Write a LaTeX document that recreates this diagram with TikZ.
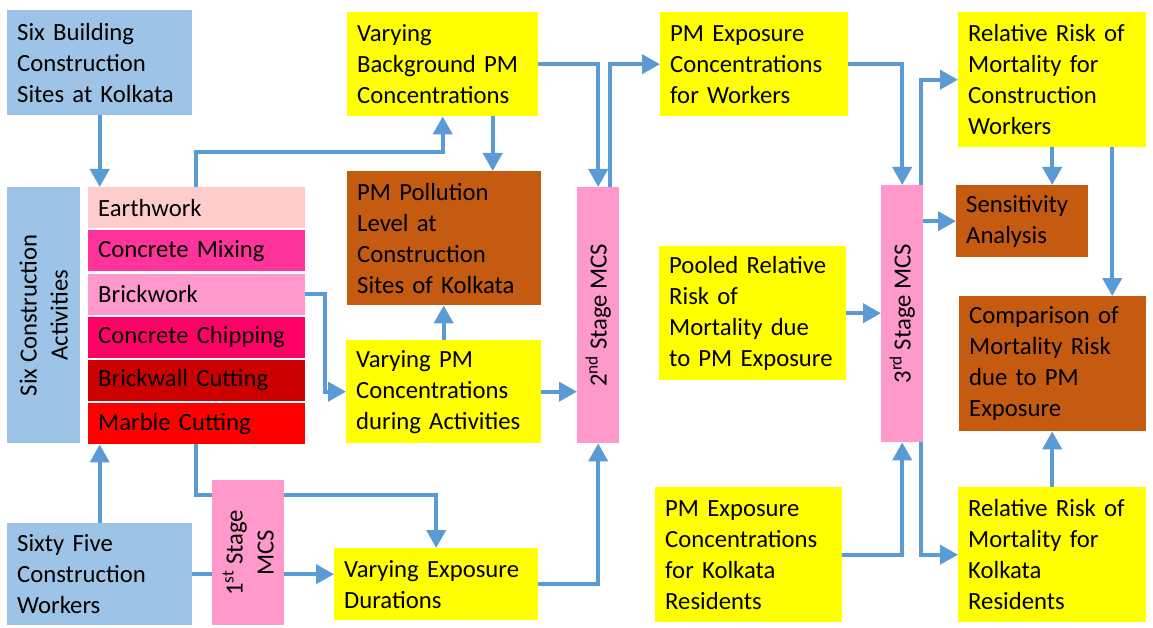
\documentclass[tikz,border=0pt]{standalone}
\usepackage{fontspec}
\setmainfont{Carlito}
\usetikzlibrary{arrows.meta,calc}
\definecolor{lblue}{HTML}{9DC3E6}
\definecolor{arrc}{HTML}{5B9BD5}
\definecolor{yel}{HTML}{FFFF00}
\definecolor{brn}{HTML}{C55A11}
\definecolor{pnk}{HTML}{FF99CC}
\definecolor{r1}{HTML}{FFCCCC}
\definecolor{r2}{HTML}{FF3399}
\definecolor{r3}{HTML}{FF99CC}
\definecolor{r4}{HTML}{FF0066}
\definecolor{r5}{HTML}{CC0000}
\definecolor{r6}{HTML}{FF0000}
\tikzset{
  mybox/.style={anchor=north west, inner xsep=10pt, inner ysep=0pt, align=left,
    font=\fontsize{24.7}{31}\selectfont, text=black},
  plainbox/.style={anchor=north west, inner sep=0pt},
  vtext/.style={rotate=90, align=center, inner sep=0pt, font=\fontsize{24.7}{31}\selectfont},
  arr/.style={draw=arrc, line width=4pt, -{Triangle[length=18pt,width=19pt]}},
}
\begin{document}
\begin{tikzpicture}[x=1pt,y=-1pt]
\useasboundingbox[fill=white] (0,0) rectangle (1153,628);

% left column
\node[mybox, fill=lblue, text width=165pt, minimum height=105pt] (site) at (7,10) {Six Building\\Construction\\Sites at Kolkata};
\node[plainbox, fill=lblue, minimum width=73pt, minimum height=256pt] (act) at (7,187) {};
\node[vtext] (acttxt) at (act.center) {Six Construction\\Activities};

\node[mybox, fill=r1, text width=197pt, minimum height=41pt] (row1) at (88,187) {Earthwork};
\node[mybox, fill=r2, text width=197pt, minimum height=41pt] (row2) at (88,230.2) {Concrete Mixing};
\node[mybox, fill=r3, text width=197pt, minimum height=41pt] (row3) at (88,273.4) {Brickwork};
\node[mybox, fill=r4, text width=197pt, minimum height=41pt] (row4) at (88,316.6) {Concrete Chipping};
\node[mybox, fill=r5, text width=197pt, minimum height=41pt] (row5) at (88,359.8) {Brickwall Cutting};
\node[mybox, fill=r6, text width=197pt, minimum height=41pt] (row6) at (88,403) {Marble Cutting};

\node[mybox, fill=lblue, text width=165pt, minimum height=102pt] (w65) at (7,523) {Sixty Five\\Construction\\Workers};

% middle
\node[mybox, fill=yel, text width=171pt, minimum height=104pt] (bg) at (347,12) {Varying\\Background PM\\Concentrations};
\node[mybox, fill=brn, text width=174pt, minimum height=134pt] (poll) at (347,171) {PM Pollution\\Level at\\Construction\\Sites of Kolkata};
\node[mybox, fill=yel, text width=175pt, minimum height=103pt] (pmact) at (346,340) {Varying PM\\Concentrations\\during Activities};
\node[mybox, fill=yel, text width=184pt, minimum height=72pt] (expdur) at (334,548) {Varying Exposure\\Durations};

% connectors behind 1st stage box
\coordinate (c1) at (196,152);
\coordinate (c2) at (196,495);
\draw[arr] (c2 |- row6.south) -- (c2) -| (expdur.north);
\draw[arr] (w65.east) -- (w65.east -| expdur.west);

\node[plainbox, fill=pnk, minimum width=72pt, minimum height=145pt] (mcs1) at (212,480) {};
\node[vtext] (mcs1txt) at (mcs1.center) {1\textsuperscript{st} Stage\\MCS};

\node[plainbox, fill=pnk, minimum width=42pt, minimum height=256pt] (mcs2) at (577,187) {};
\node[vtext] (mcs2txt) at (mcs2.center) {2\textsuperscript{nd} Stage MCS};

% right
\node[mybox, fill=yel, text width=168pt, minimum height=104pt] (expw) at (660,12) {PM Exposure\\Concentrations\\for Workers};
\node[mybox, fill=yel, text width=167pt, minimum height=134pt] (pooled) at (659,246) {Pooled Relative\\Risk of\\Mortality due\\to PM Exposure};
\node[mybox, fill=yel, text width=167pt, minimum height=135pt] (expk) at (655,487) {PM Exposure\\Concentrations\\for Kolkata\\Residents};

\node[plainbox, fill=pnk, minimum width=42pt, minimum height=257pt] (mcs3) at (881,185) {};
\node[vtext] (mcs3txt) at (mcs3.center) {3\textsuperscript{rd} Stage MCS};

\node[mybox, fill=yel, text width=168pt, minimum height=135pt] (rrcw) at (958,12) {Relative Risk of\\Mortality for\\Construction\\Workers};
\node[mybox, fill=brn, text width=112pt, minimum height=72pt] (sens) at (956,185) {Sensitivity\\Analysis};
\node[mybox, fill=brn, text width=167pt, minimum height=135pt] (comp) at (959,296) {Comparison of\\Mortality Risk\\due to PM\\Exposure};
\node[mybox, fill=yel, text width=168pt, minimum height=135pt] (rrk) at (958,487) {Relative Risk of\\Mortality for\\Kolkata\\Residents};

% connectors
\draw[arr] (site.south) -- (site.south |- row1.north);
\draw[arr] (w65.north) -- (w65.north |- row6.south);
\draw[arr] (c1 |- row1.north) -- (c1) -| (bg.south);
\draw[arr] ([xshift=50pt]bg.south) -- ([xshift=50pt]bg.south |- poll.north);
\draw[arr] (pmact.north) -- (pmact.north |- poll.south);
\draw[arr] (row3.east) -- ++(20,0) |- (pmact.west);
\draw[arr] (pmact.east) -- (pmact.east -| mcs2.west);
\draw[arr] (expdur.east) -| (mcs2.south);
\draw[arr] (bg.east) -| (mcs2.north);
\draw[arr] ([xshift=12pt]mcs2.north) |- (expw.west);
\draw[arr] (expw.east) -| (mcs3.north);
\draw[arr] ([xshift=-2pt]mcs3.north east) |- (rrcw.west);
\draw[arr] (sens.west -| mcs3.east) -- (sens.west);
\draw[arr] (rrcw.south) -- (rrcw.south |- sens.north);
\draw[arr] ([xshift=60pt]rrcw.south) -- ([xshift=60pt]rrcw.south |- comp.north);
\draw[arr] (pooled.east) -- (pooled.east -| mcs3.west);
\draw[arr] (expk.east) -| (mcs3.south);
\draw[arr] ([xshift=-2pt]mcs3.south east) |- (rrk.west);
\draw[arr] (rrk.north) -- (rrk.north |- comp.south);
\end{tikzpicture}
\end{document}
